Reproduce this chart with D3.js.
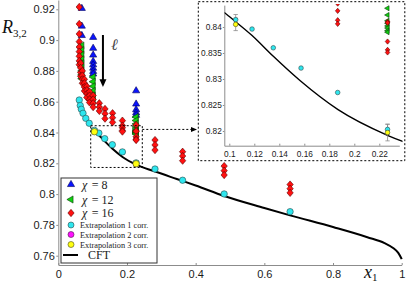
<!DOCTYPE html>
<html>
<head>
<meta charset="utf-8">
<script src="https://cdn.jsdelivr.net/npm/d3@7"></script>
<style>
body { margin: 0; background: #fff; }
svg { display: block; }
.tick text { font-family: "Liberation Sans", Arial, sans-serif; fill: #1a1a1a; }
.axis path, .axis line { stroke: #8c8c8c; }
.serif { font-family: "Liberation Serif", "Times New Roman", serif; }
</style>
</head>
<body>
<div id="chart"></div>
<script>
// chi = 8 (blue triangles), grouped by x1 column
var chi8Cols = [0.0685, 0.1015, 0.2266];
var chi8Vals = [
    [0.9206, 0.9091, 0.9030],
    [0.9018, 0.8947, 0.8903, 0.8862, 0.8840, 0.8818, 0.8797, 0.8780],
    [0.8671, 0.8585, 0.8548, 0.8528, 0.8512]
];

// chi = 12 (green left triangles)
var chi12Cols = [0.0685, 0.1015, 0.2266];
var chi12Vals = [
    [0.8965, 0.8935, 0.8905, 0.8875, 0.8850, 0.8825, 0.8800, 0.8775, 0.8750],
    [0.8760, 0.8730, 0.8700, 0.8670, 0.8640, 0.8615],
    [0.8500, 0.8478, 0.8456, 0.8436, 0.8423, 0.8412, 0.8407, 0.8402, 0.8398, 0.8393, 0.8390]
];

// chi = 16 (red diamonds)
var chi16Cols = [0.061, 0.065, 0.070, 0.076, 0.083, 0.091, 0.1015, 0.1195, 0.136, 0.158,
    0.1867, 0.2266, 0.2816, 0.362, 0.483, 0.675];
var chi16Vals = [
    [0.9215, 0.9105, 0.9040, 0.8990, 0.8955, 0.8925, 0.8895, 0.8865, 0.8840],
    [0.8850, 0.8820, 0.8790, 0.8765],
    [0.8800, 0.8770, 0.8745, 0.8720],
    [0.8745, 0.8720, 0.8695, 0.8670],
    [0.8700, 0.8675, 0.8650, 0.8628],
    [0.8665, 0.8640, 0.8615, 0.8595],
    [0.8640, 0.8615, 0.8590, 0.8565],
    [0.8590, 0.8565, 0.8540],
    [0.8553, 0.8522, 0.8490],
    [0.8525, 0.8496, 0.8466],
    [0.8477, 0.8445, 0.8431, 0.8413, 0.8406],
    [0.8449, 0.8410, 0.8408, 0.8372, 0.8356, 0.8351],
    [0.8351, 0.8319, 0.8286],
    [0.8275, 0.8247, 0.8217],
    [0.8182, 0.8152, 0.8124],
    [0.8062, 0.8035, 0.8008]
];

// extrapolations
var ext1X = [0.061, 0.064, 0.067, 0.072, 0.080, 0.090, 0.1051, 0.1182, 0.1352, 0.1574, 0.1867, 0.2266, 0.2816, 0.362, 0.483, 0.675];
var ext1Y = [0.8611, 0.8575, 0.8551, 0.8525, 0.8492, 0.8460, 0.8414, 0.8396, 0.8360, 0.8321, 0.8274, 0.8203, 0.8163, 0.8090, 0.8001, 0.7886];
var ext1Err = [0, 0, 0, 0, 0, 0, 0.0010, 0, 0, 0, 0, 0.0010, 0, 0, 0, 0];
var ext2X = [];
var ext2Y = [];
var ext3X = [0.1051, 0.2266];
var ext3Y = [0.8405, 0.8197];
var ext3Err = [0.0012, 0.0016];

// CFT curve
var cftX = [0.096, 0.1, 0.118, 0.135, 0.157, 0.187, 0.227, 0.28, 0.345, 0.4, 0.483, 0.6, 0.675, 0.8, 0.9, 0.95, 0.975, 0.99, 1.0];
var cftY = [0.8428, 0.8420, 0.8384, 0.8344, 0.8296, 0.8241, 0.8191, 0.8148, 0.8098, 0.8056, 0.7988, 0.7910, 0.7862, 0.7786, 0.7720, 0.7682, 0.7650, 0.7618, 0.7578];

var xTicks = [0, 0.2, 0.4, 0.6, 0.8, 1];
var yTicks = [0.76, 0.78, 0.8, 0.82, 0.84, 0.86, 0.88, 0.9, 0.92];
var insetXTicks = [0.1, 0.12, 0.14, 0.16, 0.18, 0.2, 0.22];
var insetYTicks = [0.82, 0.825, 0.83, 0.835, 0.84];
var zoomBox = [0.0944, 0.2446, 0.8173, 0.8444];

var legendLabels = ["χ = 8", "χ = 12", "χ = 16", "Extrapolation 1 corr.", "Extrapolation 2 corr.", "Extrapolation 3 corr.", "CFT"];

var svgWidth = 406;
var svgHeight = 289;

var svg = d3.select("#chart")
    .append("svg")
    .attr("width", svgWidth)
    .attr("height", svgHeight);

var xScale = d3.scaleLinear().domain([0, 1]).range([58.3, 401.7]);
var yScale = d3.scaleLinear().domain([0.75396, 0.92604]).range([265, 0]);

var ixScale = d3.scaleLinear().domain([0.096, 0.236]).range([224.3, 399.3]);
var iyScale = d3.scaleLinear().domain([0.81717, 0.8442]).range([145.7, 5.14]);

var fmt = d => String(+d.toFixed(3));

// marker shapes
var diamond = {
    draw: function (ctx, size) {
        var r = Math.sqrt(size / 2);
        ctx.moveTo(0, -r * 1.1);
        ctx.lineTo(r * 0.95, 0);
        ctx.lineTo(0, r * 1.1);
        ctx.lineTo(-r * 0.95, 0);
        ctx.closePath();
    }
};

var styles = {
    chi8: { type: d3.symbolTriangle, fill: "#0a14ff", stroke: "#00005a", rot: 0 },
    chi12: { type: d3.symbolTriangle, fill: "#10d010", stroke: "#0a3a0a", rot: -90 },
    chi16: { type: diamond, fill: "#ff1010", stroke: "#5a0000", rot: 0 },
    ext1: { fill: "#2ee6ee", stroke: "#2a4a4a" },
    ext2: { fill: "#ff10ff", stroke: "#4a1a4a" },
    ext3: { fill: "#ffff10", stroke: "#4a4a1a" }
};

function flatten(cols, vals) {
    var pts = [];
    cols.forEach((c, i) => vals[i].forEach(v => pts.push({ x: c, y: v })));
    return pts;
}

function zipPts(xs, ys, errs) {
    return xs.map((v, i) => ({ x: v, y: ys[i], e: errs ? errs[i] : 0 }));
}

function drawSymbols(g, pts, st, xs, ys, size) {
    g.append("g").selectAll("path")
        .data(pts)
        .enter()
        .append("path")
        .attr("d", d3.symbol().type(st.type).size(size))
        .attr("transform", d => `translate(${xs(d.x)},${ys(d.y)}) rotate(${st.rot})`)
        .attr("fill", st.fill)
        .attr("stroke", st.stroke)
        .attr("stroke-width", 0.6);
}

function drawCircles(g, pts, st, xs, ys, r) {
    g.append("g").selectAll("circle")
        .data(pts)
        .enter()
        .append("circle")
        .attr("cx", d => xs(d.x))
        .attr("cy", d => ys(d.y))
        .attr("r", r)
        .attr("fill", st.fill)
        .attr("stroke", st.stroke)
        .attr("stroke-width", 0.6);
}

function drawErrors(g, pts, xs, ys, cap) {
    var eg = g.append("g").attr("stroke", "#8a8a8a").attr("stroke-width", 0.8);
    pts.filter(d => d.e > 0).forEach(d => {
        var cx = xs(d.x), y0 = ys(d.y - d.e), y1 = ys(d.y + d.e);
        eg.append("line").attr("x1", cx).attr("x2", cx).attr("y1", y0).attr("y2", y1);
        eg.append("line").attr("x1", cx - cap).attr("x2", cx + cap).attr("y1", y0).attr("y2", y0);
        eg.append("line").attr("x1", cx - cap).attr("x2", cx + cap).attr("y1", y1).attr("y2", y1);
    });
}

var cftPts = zipPts(cftX, cftY);
var chi8Pts = flatten(chi8Cols, chi8Vals);
var chi12Pts = flatten(chi12Cols, chi12Vals);
var chi16Pts = flatten(chi16Cols, chi16Vals);
var ext1Pts = zipPts(ext1X, ext1Y, ext1Err);
var ext2Pts = zipPts(ext2X, ext2Y);
var ext3Pts = zipPts(ext3X, ext3Y, ext3Err);

function drawData(g, xs, ys, k, lw) {
    var line = d3.line().x(d => xs(d.x)).y(d => ys(d.y)).curve(d3.curveMonotoneX);
    g.append("path")
        .datum(cftPts)
        .attr("d", line)
        .attr("fill", "none")
        .attr("stroke", "#000")
        .attr("stroke-width", lw);
    drawErrors(g, ext1Pts.concat(ext3Pts), xs, ys, 3 * k);
    drawSymbols(g, chi8Pts, styles.chi8, xs, ys, 22 * k * k);
    drawSymbols(g, chi12Pts, styles.chi12, xs, ys, 22 * k * k);
    drawSymbols(g, chi16Pts, styles.chi16, xs, ys, 22 * k * k);
    drawCircles(g, ext1Pts, styles.ext1, xs, ys, 3.2 * k);
    drawCircles(g, ext2Pts, styles.ext2, xs, ys, 3.2 * k);
    drawCircles(g, ext3Pts, styles.ext3, xs, ys, 3.2 * k);
}

// ---- main axes ----
var yAxis = svg.append("g")
    .attr("class", "axis")
    .attr("transform", `translate(${xScale(0)},0)`)
    .call(d3.axisLeft(yScale).tickValues(yTicks).tickFormat(fmt).tickSizeInner(2).tickSizeOuter(0).tickPadding(1.5));
yAxis.selectAll("text").attr("font-size", "11px");

var xAxis = svg.append("g")
    .attr("class", "axis")
    .attr("transform", `translate(0,${yScale.range()[0]})`)
    .call(d3.axisBottom(xScale).tickValues(xTicks).tickFormat(fmt).tickSizeInner(-2).tickSizeOuter(0).tickPadding(5));
xAxis.selectAll("text").attr("font-size", "11px");
svg.selectAll(".axis .domain").attr("stroke", "#8c8c8c");

var mainG = svg.append("g");
drawData(mainG, xScale, yScale, 1, 2);

// dashed zoom box + arrow
svg.append("rect")
    .attr("x", xScale(zoomBox[0]))
    .attr("y", yScale(zoomBox[3]))
    .attr("width", xScale(zoomBox[1]) - xScale(zoomBox[0]))
    .attr("height", yScale(zoomBox[2]) - yScale(zoomBox[3]))
    .attr("fill", "none")
    .attr("stroke", "#000")
    .attr("stroke-width", 1)
    .attr("stroke-dasharray", "2,2");

var arrowY = yScale(0.842);
svg.append("line")
    .attr("x1", xScale(zoomBox[1])).attr("x2", 192)
    .attr("y1", arrowY).attr("y2", arrowY)
    .attr("stroke", "#000").attr("stroke-width", 1).attr("stroke-dasharray", "2,2");
svg.append("path")
    .attr("d", `M191,${arrowY - 2.5} L197,${arrowY} L191,${arrowY + 2.5} Z`)
    .attr("fill", "#000");

// ell arrow
var ellX = xScale(0.13);
svg.append("line")
    .attr("x1", ellX).attr("x2", ellX)
    .attr("y1", yScale(0.9033)).attr("y2", yScale(0.874))
    .attr("stroke", "#000").attr("stroke-width", 2);
svg.append("path")
    .attr("d", `M${ellX - 3.5},${yScale(0.8745)} L${ellX + 3.5},${yScale(0.8745)} L${ellX},${yScale(0.8696)} Z`)
    .attr("fill", "#000");
svg.append("text")
    .attr("class", "serif")
    .attr("x", ellX + 8).attr("y", 50)
    .attr("font-size", "16px")
    .attr("font-style", "italic")
    .attr("fill", "#444")
    .text("ℓ");

// axis titles
var yTitle = svg.append("text").attr("class", "serif").attr("x", 2).attr("y", 33).attr("fill", "#111");
yTitle.append("tspan").attr("font-size", "18px").attr("font-style", "italic").text("R");
yTitle.append("tspan").attr("font-size", "11px").attr("dy", 3.5).text("3,2");

var xTitle = svg.append("text").attr("class", "serif").attr("x", 364).attr("y", 278).attr("fill", "#111");
xTitle.append("tspan").attr("font-size", "18px").attr("font-style", "italic").text("x");
xTitle.append("tspan").attr("font-size", "11px").attr("dy", 3).text("1");

// ---- legend ----
var legend = svg.append("g");
legend.append("rect")
    .attr("x", 61).attr("y", 178).attr("width", 96).attr("height", 85)
    .attr("fill", "#fff").attr("stroke", "#333").attr("stroke-width", 1);

var legendYs = [184.5, 199.5, 213, 225, 234.5, 244.5, 255];
var legendKeys = ["chi8", "chi12", "chi16", "ext1", "ext2", "ext3", "cft"];
legendKeys.forEach((key, i) => {
    var ly = legendYs[i];
    var st = styles[key];
    if (key === "cft") {
        legend.append("line").attr("x1", 63).attr("x2", 78).attr("y1", ly).attr("y2", ly)
            .attr("stroke", "#000").attr("stroke-width", 2);
    } else if (st.type) {
        legend.append("path")
            .attr("d", d3.symbol().type(st.type).size(22))
            .attr("transform", `translate(71,${ly}) rotate(${st.rot})`)
            .attr("fill", st.fill).attr("stroke", st.stroke).attr("stroke-width", 0.6);
    } else {
        legend.append("circle").attr("cx", 71).attr("cy", ly).attr("r", 3)
            .attr("fill", st.fill).attr("stroke", st.stroke).attr("stroke-width", 0.6);
    }
    var label = legendLabels[i];
    var t = legend.append("text").attr("class", "serif").attr("fill", "#222");
    if (label.charAt(0) === "χ") {
        t.attr("x", 82).attr("y", ly + 4).attr("font-size", "12px");
        t.append("tspan").attr("font-style", "italic").text("χ");
        t.append("tspan").attr("dx", 2).text("\u2009= " + label.split("= ")[1]);
    } else if (key === "cft") {
        t.attr("x", 88).attr("y", ly + 4).attr("font-size", "12px").text(label);
    } else {
        t.attr("x", 80).attr("y", ly + 3).attr("font-size", "8.3px").text(label);
    }
});

// ---- inset ----
var inset = svg.append("g");
inset.append("rect")
    .attr("x", 198.3).attr("y", 1.7).attr("width", 206.5).attr("height", 159)
    .attr("fill", "#fff").attr("stroke", "#000").attr("stroke-width", 1)
    .attr("stroke-dasharray", "2,2");

var iyAxis = inset.append("g")
    .attr("class", "axis")
    .attr("transform", `translate(${ixScale(0.096)},0)`)
    .call(d3.axisLeft(iyScale).tickValues(insetYTicks).tickFormat(fmt).tickSizeInner(1.5).tickSizeOuter(0).tickPadding(1));
iyAxis.selectAll("text").attr("font-size", "8.3px");

var ixAxis = inset.append("g")
    .attr("class", "axis")
    .attr("transform", `translate(0,${iyScale(0.81717)})`)
    .call(d3.axisBottom(ixScale).tickValues(insetXTicks).tickFormat(fmt).tickSizeInner(-2).tickSizeOuter(0).tickPadding(5));
ixAxis.selectAll("text").attr("font-size", "8.3px");
inset.selectAll(".axis .domain").attr("stroke", "#8c8c8c");

svg.append("clipPath").attr("id", "insetClip")
    .append("rect").attr("x", 224.5).attr("y", 4).attr("width", 178).attr("height", 142);

var insetData = inset.append("g").attr("clip-path", "url(#insetClip)");
drawData(insetData, ixScale, iyScale, 0.72, 1.4);
</script>
</body>
</html>
